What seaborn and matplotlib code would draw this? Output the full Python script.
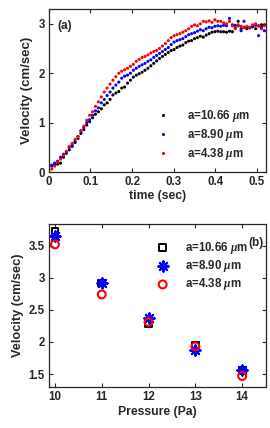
import pandas as pd
import seaborn as sns
import matplotlib.pyplot as plt

# panel (a): velocity vs time for three particle sizes
time = [0.007, 0.014, 0.021, 0.028, 0.035, 0.042, 0.049, 0.056, 0.063, 0.070,
        0.077, 0.084, 0.091, 0.098, 0.105, 0.112, 0.119, 0.126, 0.133, 0.140,
        0.147, 0.154, 0.161, 0.168, 0.175, 0.182, 0.189, 0.196, 0.203, 0.210,
        0.217, 0.224, 0.231, 0.238, 0.245, 0.252, 0.259, 0.266, 0.273, 0.280,
        0.287, 0.294, 0.301, 0.308, 0.315, 0.322, 0.329, 0.336, 0.343, 0.350,
        0.357, 0.364, 0.371, 0.378, 0.385, 0.392, 0.399, 0.406, 0.413, 0.420,
        0.427, 0.434, 0.441, 0.448, 0.455, 0.462, 0.469, 0.476, 0.483, 0.490,
        0.497, 0.504, 0.511, 0.518]
v_1066 = [0.12, 0.15, 0.16, 0.18, 0.30, 0.38, 0.45, 0.52, 0.60, 0.68,
          0.78, 0.86, 0.95, 1.02, 1.10, 1.17, 1.22, 1.28, 1.36, 1.40,
          1.47, 1.56, 1.60, 1.63, 1.70, 1.72, 1.80, 1.86, 1.92, 1.96,
          1.99, 2.02, 2.06, 2.10, 2.15, 2.20, 2.25, 2.30, 2.34, 2.38,
          2.42, 2.46, 2.48, 2.52, 2.55, 2.57, 2.62, 2.65, 2.66, 2.70,
          2.72, 2.75, 2.73, 2.77, 2.80, 2.83, 2.84, 2.85, 2.84, 2.84,
          2.83, 2.85, 2.84, 2.97, 3.05, 2.90, 2.93, 2.90, 2.92, 2.94,
          2.90, 2.96, 2.98, 2.98]
v_890 = [0.14, 0.18, 0.22, 0.30, 0.36, 0.40, 0.50, 0.55, 0.62, 0.72,
         0.82, 0.90, 1.00, 1.06, 1.15, 1.24, 1.30, 1.40, 1.47, 1.55,
         1.62, 1.70, 1.76, 1.82, 1.90, 1.94, 1.96, 2.00, 2.06, 2.10,
         2.14, 2.17, 2.20, 2.24, 2.27, 2.32, 2.36, 2.40, 2.44, 2.48,
         2.52, 2.58, 2.63, 2.66, 2.68, 2.70, 2.74, 2.78, 2.80, 2.82,
         2.85, 2.88, 2.86, 2.90, 2.93, 2.92, 2.95, 2.96, 2.95, 2.97,
         2.96, 3.11, 2.98, 2.92, 2.96, 2.86, 3.05, 2.93, 2.92, 2.96,
         2.97, 2.76, 2.93, 2.86]
v_438 = [0.06, 0.12, 0.20, 0.26, 0.34, 0.42, 0.52, 0.58, 0.66, 0.72,
         0.84, 0.93, 1.05, 1.15, 1.22, 1.33, 1.42, 1.52, 1.62, 1.70,
         1.78, 1.86, 1.93, 2.00, 2.04, 2.07, 2.10, 2.14, 2.18, 2.24,
         2.28, 2.32, 2.34, 2.37, 2.41, 2.44, 2.46, 2.50, 2.55, 2.60,
         2.66, 2.72, 2.76, 2.78, 2.80, 2.83, 2.86, 2.90, 2.95, 2.98,
         2.96, 3.00, 3.05, 3.04, 3.06, 3.03, 3.08, 3.05, 3.05, 3.02,
         3.00, 3.05, 2.96, 2.90, 2.98, 2.95, 2.92, 2.95, 2.93, 2.98,
         3.00, 2.95, 2.90, 2.96]

# panel (b): terminal velocity vs pressure
pressure = [10, 11, 12, 13, 14]
p_1066 = [3.72, 2.92, 2.28, 1.95, 1.55]
p_890 = [3.65, 2.92, 2.37, 1.88, 1.57]
p_438 = [3.52, 2.74, 2.31, 1.93, 1.47]

labels = [r'a=10.66 $\mu$m', r'a=8.90 $\mu$m', r'a=4.38 $\mu$m']
colors = ['black', 'blue', 'red']

sns.set_style('ticks')
plt.rcParams['font.family'] = ['Liberation Sans', 'DejaVu Sans']
plt.rcParams['font.weight'] = 'bold'
plt.rcParams['font.size'] = 8.5
plt.rcParams['axes.labelweight'] = 'bold'
plt.rcParams['mathtext.fontset'] = 'custom'
plt.rcParams['mathtext.it'] = 'Liberation Serif:italic'
plt.rcParams['mathtext.default'] = 'it'

fig = plt.figure(figsize=(2.7, 4.28), dpi=100)
ax1 = fig.add_axes([0.181, 0.598, 0.806, 0.381])
ax2 = fig.add_axes([0.181, 0.096, 0.806, 0.381])

df_a = pd.DataFrame({
    'time': time * 3,
    'v': v_1066 + v_890 + v_438,
    'size': [labels[0]] * len(time) + [labels[1]] * len(time) + [labels[2]] * len(time),
})
sns.scatterplot(data=df_a, x='time', y='v', hue='size', palette=colors,
                s=5, linewidth=0, ax=ax1)

# markers drawn one series at a time, black under blue under red
sub = pd.DataFrame({'p': pressure, 'v': p_1066})
sns.scatterplot(data=sub, x='p', y='v', marker='s', s=24, facecolor='none',
                edgecolor='black', linewidth=1.4, label=labels[0], ax=ax2)
sub = pd.DataFrame({'p': pressure, 'v': p_890})
sns.scatterplot(data=sub, x='p', y='v', marker=(8, 2, 0), s=55, color='blue',
                linewidth=1.5, label=labels[1], ax=ax2)
sub = pd.DataFrame({'p': pressure, 'v': p_438})
sns.scatterplot(data=sub, x='p', y='v', marker='o', s=32, facecolor='none',
                edgecolor='red', linewidth=1.5, label=labels[2], ax=ax2)

for ax in (ax1, ax2):
    ax.tick_params(direction='in', top=True, right=True, length=3, width=0.8,
                   labelsize=8.3, pad=3)
    for sp in ax.spines.values():
        sp.set_linewidth(0.9)
        sp.set_visible(True)

ax1.set_xlim(0, 0.523)
ax1.set_ylim(0, 3.3)
ax1.set_xticks([0, 0.1, 0.2, 0.3, 0.4, 0.5])
ax1.set_xticklabels(['0', '0.1', '0.2', '0.3', '0.4', '0.5'])
ax1.set_yticks([0, 1, 2, 3])
ax1.set_xlabel('time (sec)', labelpad=1, fontsize=8.8)
ax1.set_ylabel('Velocity (cm/sec)', labelpad=4, fontsize=9.5)
ax1.text(0.04, 0.93, '(a)', transform=ax1.transAxes, ha='left', va='top')
ax1.legend(loc='upper left', bbox_to_anchor=(0.47, 0.42), frameon=False,
           handletextpad=1.5, labelspacing=0.25, handlelength=1.2,
           borderaxespad=0, fontsize=8.3)

ax2.set_xlim(9.87, 14.52)
ax2.set_ylim(1.3, 3.84)
ax2.set_xticks([10, 11, 12, 13, 14])
ax2.set_yticks([1.5, 2, 2.5, 3, 3.5])
ax2.set_yticklabels(['1.5', '2', '2.5', '3', '3.5'])
ax2.set_xlabel('Pressure (Pa)', labelpad=2, fontsize=8.8)
ax2.set_ylabel('Velocity (cm/sec)', labelpad=3, fontsize=9.2)
ax2.text(0.985, 0.88, '(b)', transform=ax2.transAxes, ha='right', va='center')
ax2.legend(loc='upper left', bbox_to_anchor=(0.47, 0.93), frameon=False,
           handletextpad=1.3, labelspacing=0.2, handlelength=1.2,
           borderaxespad=0, fontsize=8.3)

fig.savefig('out.png', dpi=100)
